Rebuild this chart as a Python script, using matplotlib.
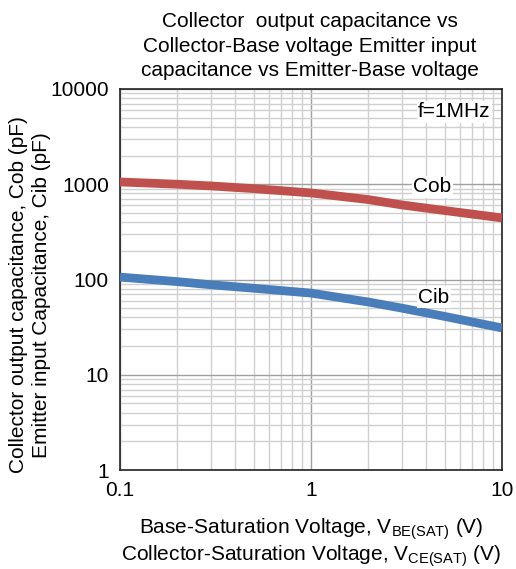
import matplotlib
matplotlib.use("Agg")
import matplotlib.pyplot as plt
from matplotlib.ticker import LogLocator, FixedLocator, NullFormatter

plt.rcParams['font.family'] = ['Liberation Sans', 'DejaVu Sans']
plt.rcParams['mathtext.fontset'] = 'custom'
plt.rcParams['mathtext.rm'] = 'Liberation Sans'
plt.rcParams['mathtext.it'] = 'Liberation Sans'

voltage = [0.1, 0.2, 0.3, 0.5, 1, 2, 3, 5, 10]
cob = [1057, 1000, 960, 900, 811, 690, 606, 530, 443]
cib = [106, 95, 88, 81, 72, 58, 50, 41, 31]

x_ticks = [0.1, 1, 10]
x_labels = ["0.1", "1", "10"]
y_ticks = [1, 10, 100, 1000, 10000]
y_labels = ["1", "10", "100", "1000", "10000"]

FS = 15

fig = plt.figure(figsize=(5.16, 5.69), dpi=100)
ax = fig.add_axes([120/516, 1-470/569, 382/516, 381/569])
ax.set_xscale('log'); ax.set_yscale('log')
ax.set_xlim(0.1, 10); ax.set_ylim(1, 10000)

ax.plot(voltage, cob, color='#c0504d', lw=6.3, solid_capstyle='butt', zorder=3)
ax.plot(voltage, cib, color='#4a7ebb', lw=6.3, solid_capstyle='butt', zorder=3)

ax.xaxis.set_major_locator(FixedLocator(x_ticks))
ax.set_xticklabels(x_labels)
ax.yaxis.set_major_locator(FixedLocator(y_ticks))
ax.set_yticklabels(y_labels)
ax.xaxis.set_minor_locator(LogLocator(base=10, subs=range(2, 10)))
ax.yaxis.set_minor_locator(LogLocator(base=10, subs=range(2, 10)))
ax.xaxis.set_minor_formatter(NullFormatter())
ax.yaxis.set_minor_formatter(NullFormatter())
ax.grid(which='major', color='#a0a0a0', lw=1.0, zorder=1)
ax.grid(which='minor', color='#d0d0d0', lw=1.0, zorder=1)
ax.tick_params(which='both', length=0, labelsize=FS, pad=8)
for s in ax.spines.values():
    s.set_linewidth(1.2); s.set_color('#222222')

ax.text(0.1 * 10**(1.535), 10**(2.975), 'Cob', fontsize=FS, ha='left', va='center',
        bbox=dict(facecolor='white', edgecolor='none', pad=1), zorder=4)
ax.text(0.1 * 10**(1.56), 10**(1.815), 'Cib', fontsize=FS, ha='left', va='center',
        bbox=dict(facecolor='white', edgecolor='none', pad=1), zorder=4)
ax.text(0.97, 0.94, 'f=1MHz', transform=ax.transAxes, fontsize=FS, ha='right', va='center',
        bbox=dict(facecolor='white', edgecolor='none', pad=1), zorder=4)

fig.text(310/516, 1-46/569,
         "Collector  output capacitance vs\nCollector-Base voltage Emitter input\ncapacitance vs Emitter-Base voltage",
         ha='center', va='center', fontsize=FS, linespacing=1.34)
ax.set_xlabel("Base-Saturation Voltage, V$_{\\mathrm{BE(SAT)}}$ (V)\nCollector-Saturation Voltage, V$_{\\mathrm{CE(SAT)}}$ (V)",
              fontsize=FS, labelpad=12, linespacing=1.1)
fig.text(30/516, 1-295/569,
         "Collector output capacitance, Cob (pF)\nEmitter input Capacitance, Cib (pF)",
         rotation=90, ha='center', va='center', fontsize=FS, linespacing=1.33)

fig.savefig('out.png', dpi=100)
